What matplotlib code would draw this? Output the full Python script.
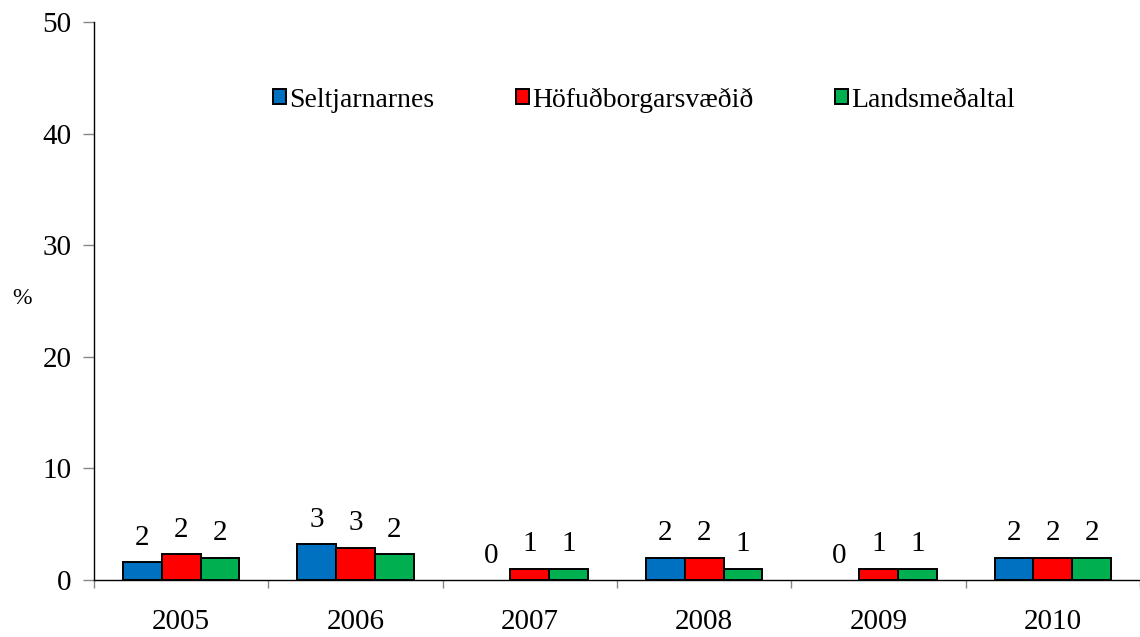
import matplotlib
matplotlib.use("Agg")
import matplotlib.pyplot as plt
import numpy as np

years = ["2005", "2006", "2007", "2008", "2009", "2010"]
series_names = ["Seltjarnarnes", "Höfuðborgarsvæðið", "Landsmeðaltal"]
seltjarnarnes = [1.6, 3.2, 0.0, 2.0, 0.0, 2.0]
hofudborgarsvaedid = [2.3, 2.9, 1.0, 2.0, 1.0, 2.0]
landsmedaltal = [2.0, 2.3, 1.0, 1.0, 1.0, 2.0]
colors = ["#0070C0", "#FF0000", "#00B050"]

plt.rcParams['font.family'] = ['Liberation Serif', 'DejaVu Serif']
FS = 21

fig = plt.figure(figsize=(11.4, 6.37), dpi=100)
ax = fig.add_axes([94/1140, 1-580/637, (1140-94)/1140, (580-22)/637])

x = np.arange(len(years))
w = 0.223
data = [seltjarnarnes, hofudborgarsvaedid, landsmedaltal]
for i, (vals, name, c) in enumerate(zip(data, series_names, colors)):
    pos = x + (i - 1) * w
    lws = [1.4 if v > 0 else 0 for v in vals]
    ax.bar(pos, vals, width=w, color=c, edgecolor='black', linewidth=lws,
           label=name, zorder=3)
    for px, v in zip(pos, vals):
        ax.annotate(f"{v:.0f}", (px, v), xytext=(0, 12.5), textcoords='offset points',
                    ha='center', va='baseline', fontsize=FS)

ax.set_xlim(-0.5, len(years) - 0.5)
ax.set_ylim(0, 50)
ax.set_yticks(range(0, 51, 10))
ax.tick_params(axis='y', labelsize=FS, length=8, color='#888888', pad=8, width=1)

ax.set_xticks(np.arange(-0.5, len(years), 1.0))
ax.set_xticklabels([])
ax.tick_params(axis='x', which='major', length=6, color='#888888', width=1)
ax.set_xticks(x, minor=True)
ax.set_xticklabels(years, minor=True)
ax.tick_params(axis='x', which='minor', length=0, labelsize=FS, pad=21)

for s in ['top', 'right']:
    ax.spines[s].set_visible(False)
ax.spines['left'].set_linewidth(1.0)
ax.spines['bottom'].set_linewidth(1.0)

fig.text(22/1140, 1-298/637, "%", fontsize=17, ha='center', va='center')

ax.legend(loc='center', bbox_to_anchor=(0.526, 0.86), ncol=3, frameon=False,
          fontsize=20, handlelength=0.45, handleheight=0.45, handletextpad=0.12,
          columnspacing=2.95)

fig.savefig("out.png", dpi=100)
